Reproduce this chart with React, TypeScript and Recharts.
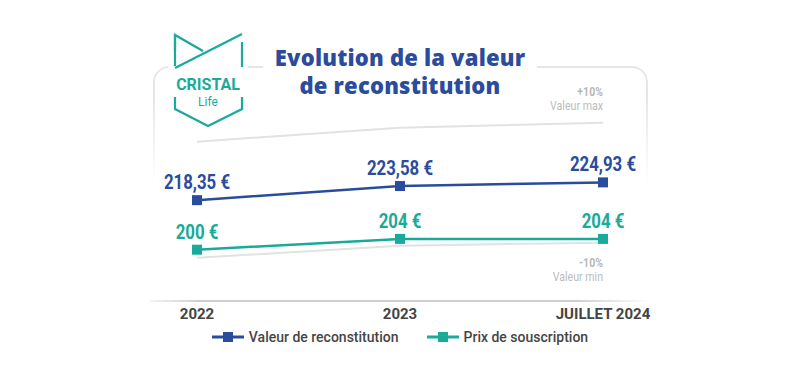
import React from 'react';
import { LineChart, Line, XAxis, YAxis, LabelList, Legend } from 'recharts';

const categories = ['2022', '2023', 'JUILLET 2024'];
const valeurReconstitution = [218.35, 223.58, 224.93];
const prixSouscription = [200, 204, 204];
const guideMax = [240, 245.2, 247];
const guideMin = [197, 201.5, 202.6];
const seriesNames = ['Valeur de reconstitution', 'Prix de souscription'];
const titleLines = ['Evolution de la valeur', 'de reconstitution'];
const guideMaxText = ['+10%', 'Valeur max'];
const guideMinText = ['-10%', 'Valeur min'];

const BLUE = '#2b4c9c';
const TEAL = '#19aa9a';
const GUIDE = '#e2e2e2';

const data = categories.map((c, i) => ({
  cat: c,
  reco: valeurReconstitution[i],
  prix: prixSouscription[i],
  gmax: guideMax[i],
  gmin: guideMin[i],
}));

const squareDot = (color: string) => (props: any) => {
  const { cx, cy, index } = props;
  return <rect key={`d-${color}-${index}`} x={cx - 5} y={cy - 5} width={10} height={10} fill={color} />;
};

const fmtReco = (v: number) => v.toFixed(2).replace('.', ',') + ' €';
const fmtPrix = (v: number) => String(v) + ' €';

const makeLabel = (color: string, fmt: (v: number) => string) => (props: any) => {
  const x = props.x ?? props.viewBox?.x;
  const y = props.y ?? props.viewBox?.y;
  return (
    <g key={`l-${color}-${props.index}`} transform={`translate(${x},${y - 11}) scale(0.8,1)`}>
      <text
        x={0}
        y={0}
        textAnchor="middle"
        fill={color}
        fontSize={21}
        fontWeight={700}
        fontFamily="Roboto, sans-serif"
      >
        {fmt(Number(props.value))}
      </text>
    </g>
  );
};

const renderLegend = (props: any) => {
  const items = (props.payload || [])
    .filter((p: any) => seriesNames.includes(p.value))
    .sort((a: any, b: any) => seriesNames.indexOf(a.value) - seriesNames.indexOf(b.value));
  return (
    <div style={{ display: 'flex', justifyContent: 'center', alignItems: 'center', gap: 28, fontFamily: 'Roboto, sans-serif', fontWeight: 500, fontSize: 14, color: '#454545' }}>
      {items.map((p: any) => (
        <div key={p.value} style={{ display: 'flex', alignItems: 'center' }}>
          <svg width={32} height={12} style={{ marginRight: 5 }}>
            <line x1={0} y1={6} x2={32} y2={6} stroke={p.color} strokeWidth={3} />
            <rect x={11} y={1} width={10} height={10} fill={p.color} />
          </svg>
          <span>{p.value}</span>
        </div>
      ))}
    </div>
  );
};

const GuideText = ({ lines, baseline }: { lines: string[]; baseline: number }) => (
  <svg style={{ position: 'absolute', left: 500, top: baseline - 20 }} width={110} height={40}>
    <g transform="translate(103,20) scale(0.88,1)">
      <text x={0} y={0} textAnchor="end" fill="#b8b8b8" fontFamily="Roboto, sans-serif" fontWeight={700} fontSize={12}>{lines[0]}</text>
    </g>
    <g transform="translate(103,34) scale(0.85,1)">
      <text x={0} y={0} textAnchor="end" fill="#bcbcbc" fontFamily="Roboto, sans-serif" fontWeight={400} fontSize={12.5}>{lines[1]}</text>
    </g>
  </svg>
);

export default function App() {
  return (
    <div style={{ position: 'absolute', left: 0, top: 0, width: 800, height: 377, background: '#fff', overflow: 'hidden' }}>
      {/* rounded frame */}
      <div
        style={{
          position: 'absolute', left: 153, top: 66, width: 495, height: 120,
          border: '2px solid #e6e6e6', borderBottom: 'none', borderRadius: '16px 16px 0 0',
          WebkitMaskImage: 'linear-gradient(to bottom, black 25%, transparent 100%)',
          maskImage: 'linear-gradient(to bottom, black 25%, transparent 100%)',
          boxSizing: 'border-box',
        }}
      />
      {/* bottom line */}
      <div
        style={{
          position: 'absolute', left: 150, top: 300, width: 500, height: 2,
          background: 'linear-gradient(to right, rgba(200,200,200,0.2), #cfcfcf 10%, #cfcfcf 85%, rgba(200,200,200,0))',
        }}
      />
      {/* logo */}
      <div style={{ position: 'absolute', left: 168, top: 30, width: 80, height: 100, background: '#fff' }} />
      <svg style={{ position: 'absolute', left: 0, top: 0 }} width={800} height={140}>
        <g stroke={TEAL} strokeWidth={2.2} fill="none" strokeLinejoin="miter">
          <polyline points="175,50 175,35 203,51" />
          <line x1={175} y1={35} x2={175} y2={66} />
          <line x1={175} y1={68} x2={242} y2={34} />
          <line x1={242} y1={42} x2={242} y2={67} />
          <polyline points="175,97 175,109 208,126 242,109 242,97" />
        </g>
        <text x={208} y={90} textAnchor="middle" fill={TEAL} fontFamily="Roboto, sans-serif" fontWeight={700} fontSize={16}>CRISTAL</text>
        <text x={208} y={106} textAnchor="middle" fill={TEAL} fontFamily="Roboto, sans-serif" fontWeight={400} fontSize={12}>Life</text>
      </svg>
      {/* title */}
      <div style={{ position: 'absolute', left: 263, top: 40, width: 274, height: 58, background: '#fff' }} />
      <div style={{ position: 'absolute', left: 200, top: 43, width: 400, textAlign: 'center', fontFamily: "'Open Sans', sans-serif", fontWeight: 800, fontSize: 22, lineHeight: '28px', color: BLUE, letterSpacing: 0.2 }}>
        {titleLines.map((t) => <div key={t}>{t}</div>)}
      </div>
      {/* guide texts */}
      <GuideText lines={guideMaxText} baseline={96} />
      <GuideText lines={guideMinText} baseline={267} />
      <div style={{ position: 'absolute', left: 0, top: 0 }}>
        <LineChart width={800} height={377} data={data} margin={{ top: 85, right: 197, bottom: 46, left: 197 }}>
          <XAxis
            dataKey="cat"
            height={30}
            axisLine={false}
            tickLine={false}
            interval={0}
            tickMargin={1}
            tick={{ fill: '#444', fontFamily: 'Roboto, sans-serif', fontWeight: 700, fontSize: 15 }}
          />
          <YAxis hide type="number" domain={[181, 261]} />
          <Legend
            verticalAlign="middle"
            align="center"
            layout="horizontal"
            wrapperStyle={{ position: 'absolute', top: 329, left: 0, width: 800, height: 20 }}
            content={renderLegend}
          />
          <Line dataKey="gmax" stroke={GUIDE} strokeWidth={2} dot={false} activeDot={false} legendType="none" isAnimationActive={false} />
          <Line dataKey="gmin" stroke={GUIDE} strokeWidth={2} dot={false} activeDot={false} legendType="none" isAnimationActive={false} />
          <Line name={seriesNames[1]} dataKey="prix" stroke={TEAL} strokeWidth={2.5} dot={squareDot(TEAL)} activeDot={false} isAnimationActive={false}>
            <LabelList dataKey="prix" content={makeLabel(TEAL, fmtPrix)} />
          </Line>
          <Line name={seriesNames[0]} dataKey="reco" stroke={BLUE} strokeWidth={2.5} dot={squareDot(BLUE)} activeDot={false} isAnimationActive={false}>
            <LabelList dataKey="reco" content={makeLabel(BLUE, fmtReco)} />
          </Line>
        </LineChart>
      </div>
    </div>
  );
}
